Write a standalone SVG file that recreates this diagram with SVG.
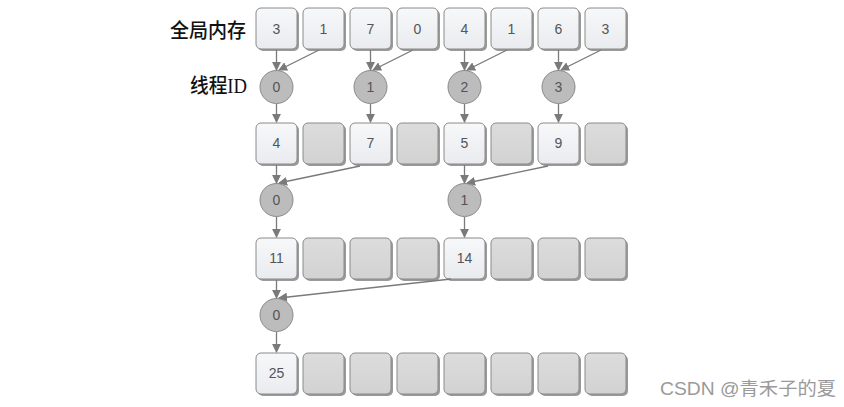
<svg xmlns="http://www.w3.org/2000/svg" width="844" height="407" viewBox="0 0 844 407">
<defs>
<linearGradient id="gl" x1="0" y1="0" x2="0" y2="1"><stop offset="0" stop-color="#f7f8fa"/><stop offset="1" stop-color="#e9ebee"/></linearGradient>
<linearGradient id="gd" x1="0" y1="0" x2="0" y2="1"><stop offset="0" stop-color="#dcdcdc"/><stop offset="1" stop-color="#d2d2d2"/></linearGradient>
<marker id="ah" viewBox="0 0 10 10" refX="9" refY="5" markerWidth="9" markerHeight="9" markerUnits="userSpaceOnUse" orient="auto"><path d="M0,0 L10,5 L0,10 Z" fill="#7a7a7a"/></marker>
</defs>
<style>
.sh{fill:#9a9a9a}
.bl{fill:url(#gl);stroke:#8a8a8a;stroke-width:1}
.bd{fill:url(#gd);stroke:#8a8a8a;stroke-width:1}
.c{fill:#bcbcbc;stroke:#8a8a8a;stroke-width:1}
.t{font-family:"Liberation Sans",Arial,sans-serif;font-size:14px;fill:#555;text-anchor:middle}
.lb{font-family:"Liberation Serif","Noto Sans CJK SC",serif;font-size:20px;fill:#111;font-weight:500}
.wm{font-family:"Liberation Sans","Noto Sans CJK SC",sans-serif;font-size:18px;fill:#9a9a9a}
.e{stroke:#7a7a7a;stroke-width:1.3;fill:none;marker-end:url(#ah)}
</style>
<rect width="844" height="407" fill="#fff"/>
<text class="lb" x="170" y="38" textLength="76" lengthAdjust="spacingAndGlyphs">全局内存</text>
<text class="lb" x="190" y="93" textLength="57" lengthAdjust="spacingAndGlyphs">线程ID</text>

<g id="row1">
<g id="m0"><rect class="sh" x="258" y="10" width="41" height="41" rx="5"/><rect class="bl" x="256" y="8" width="41" height="41" rx="5"/><text class="t" x="276.5" y="34">3</text></g>
<g id="m1"><rect class="sh" x="305" y="10" width="41" height="41" rx="5"/><rect class="bl" x="303" y="8" width="41" height="41" rx="5"/><text class="t" x="323.5" y="34">1</text></g>
<g id="m2"><rect class="sh" x="352" y="10" width="41" height="41" rx="5"/><rect class="bl" x="350" y="8" width="41" height="41" rx="5"/><text class="t" x="370.5" y="34">7</text></g>
<g id="m3"><rect class="sh" x="399" y="10" width="41" height="41" rx="5"/><rect class="bl" x="397" y="8" width="41" height="41" rx="5"/><text class="t" x="417.5" y="34">0</text></g>
<g id="m4"><rect class="sh" x="446" y="10" width="41" height="41" rx="5"/><rect class="bl" x="444" y="8" width="41" height="41" rx="5"/><text class="t" x="464.5" y="34">4</text></g>
<g id="m5"><rect class="sh" x="493" y="10" width="41" height="41" rx="5"/><rect class="bl" x="491" y="8" width="41" height="41" rx="5"/><text class="t" x="511.5" y="34">1</text></g>
<g id="m6"><rect class="sh" x="540" y="10" width="41" height="41" rx="5"/><rect class="bl" x="538" y="8" width="41" height="41" rx="5"/><text class="t" x="558.5" y="34">6</text></g>
<g id="m7"><rect class="sh" x="587" y="10" width="41" height="41" rx="5"/><rect class="bl" x="585" y="8" width="41" height="41" rx="5"/><text class="t" x="605.5" y="34">3</text></g>
</g>

<g id="threads1">
<g id="t1_0"><circle class="c" cx="276.5" cy="87" r="16.5"/><text class="t" x="276.5" y="92">0</text></g>
<g id="t1_1"><circle class="c" cx="370.5" cy="87" r="16.5"/><text class="t" x="370.5" y="92">1</text></g>
<g id="t1_2"><circle class="c" cx="464.5" cy="87" r="16.5"/><text class="t" x="464.5" y="92">2</text></g>
<g id="t1_3"><circle class="c" cx="558.5" cy="87" r="16.5"/><text class="t" x="558.5" y="92">3</text></g>
</g>

<g id="row2">
<g id="r2_0"><rect class="sh" x="258" y="125" width="41" height="41" rx="5"/><rect class="bl" x="256" y="123" width="41" height="41" rx="5"/><text class="t" x="276.5" y="148">4</text></g>
<g id="r2_1"><rect class="sh" x="305" y="125" width="41" height="41" rx="5"/><rect class="bd" x="303" y="123" width="41" height="41" rx="5"/></g>
<g id="r2_2"><rect class="sh" x="352" y="125" width="41" height="41" rx="5"/><rect class="bl" x="350" y="123" width="41" height="41" rx="5"/><text class="t" x="370.5" y="148">7</text></g>
<g id="r2_3"><rect class="sh" x="399" y="125" width="41" height="41" rx="5"/><rect class="bd" x="397" y="123" width="41" height="41" rx="5"/></g>
<g id="r2_4"><rect class="sh" x="446" y="125" width="41" height="41" rx="5"/><rect class="bl" x="444" y="123" width="41" height="41" rx="5"/><text class="t" x="464.5" y="148">5</text></g>
<g id="r2_5"><rect class="sh" x="493" y="125" width="41" height="41" rx="5"/><rect class="bd" x="491" y="123" width="41" height="41" rx="5"/></g>
<g id="r2_6"><rect class="sh" x="540" y="125" width="41" height="41" rx="5"/><rect class="bl" x="538" y="123" width="41" height="41" rx="5"/><text class="t" x="558.5" y="148">9</text></g>
<g id="r2_7"><rect class="sh" x="587" y="125" width="41" height="41" rx="5"/><rect class="bd" x="585" y="123" width="41" height="41" rx="5"/></g>
</g>

<g id="threads2">
<g id="t2_0"><circle class="c" cx="276.5" cy="200" r="16.5"/><text class="t" x="276.5" y="205">0</text></g>
<g id="t2_1"><circle class="c" cx="464.5" cy="200" r="16.5"/><text class="t" x="464.5" y="205">1</text></g>
</g>

<g id="row3">
<g id="r3_0"><rect class="sh" x="258" y="240" width="41" height="41" rx="5"/><rect class="bl" x="256" y="238" width="41" height="41" rx="5"/><text class="t" x="276.5" y="263">11</text></g>
<g id="r3_1"><rect class="sh" x="305" y="240" width="41" height="41" rx="5"/><rect class="bd" x="303" y="238" width="41" height="41" rx="5"/></g>
<g id="r3_2"><rect class="sh" x="352" y="240" width="41" height="41" rx="5"/><rect class="bd" x="350" y="238" width="41" height="41" rx="5"/></g>
<g id="r3_3"><rect class="sh" x="399" y="240" width="41" height="41" rx="5"/><rect class="bd" x="397" y="238" width="41" height="41" rx="5"/></g>
<g id="r3_4"><rect class="sh" x="446" y="240" width="41" height="41" rx="5"/><rect class="bl" x="444" y="238" width="41" height="41" rx="5"/><text class="t" x="464.5" y="263">14</text></g>
<g id="r3_5"><rect class="sh" x="493" y="240" width="41" height="41" rx="5"/><rect class="bd" x="491" y="238" width="41" height="41" rx="5"/></g>
<g id="r3_6"><rect class="sh" x="540" y="240" width="41" height="41" rx="5"/><rect class="bd" x="538" y="238" width="41" height="41" rx="5"/></g>
<g id="r3_7"><rect class="sh" x="587" y="240" width="41" height="41" rx="5"/><rect class="bd" x="585" y="238" width="41" height="41" rx="5"/></g>
</g>

<g id="threads3">
<g id="t3_0"><circle class="c" cx="276.5" cy="315" r="16.5"/><text class="t" x="276.5" y="320">0</text></g>
</g>

<g id="row4">
<g id="r4_0"><rect class="sh" x="258" y="355" width="41" height="41" rx="5"/><rect class="bl" x="256" y="353" width="41" height="41" rx="5"/><text class="t" x="276.5" y="378">25</text></g>
<g id="r4_1"><rect class="sh" x="305" y="355" width="41" height="41" rx="5"/><rect class="bd" x="303" y="353" width="41" height="41" rx="5"/></g>
<g id="r4_2"><rect class="sh" x="352" y="355" width="41" height="41" rx="5"/><rect class="bd" x="350" y="353" width="41" height="41" rx="5"/></g>
<g id="r4_3"><rect class="sh" x="399" y="355" width="41" height="41" rx="5"/><rect class="bd" x="397" y="353" width="41" height="41" rx="5"/></g>
<g id="r4_4"><rect class="sh" x="446" y="355" width="41" height="41" rx="5"/><rect class="bd" x="444" y="353" width="41" height="41" rx="5"/></g>
<g id="r4_5"><rect class="sh" x="493" y="355" width="41" height="41" rx="5"/><rect class="bd" x="491" y="353" width="41" height="41" rx="5"/></g>
<g id="r4_6"><rect class="sh" x="540" y="355" width="41" height="41" rx="5"/><rect class="bd" x="538" y="353" width="41" height="41" rx="5"/></g>
<g id="r4_7"><rect class="sh" x="587" y="355" width="41" height="41" rx="5"/><rect class="bd" x="585" y="353" width="41" height="41" rx="5"/></g>
</g>

<g id="connectors">
<line class="e" x1="276.5" y1="50" x2="276.5" y2="70"/>
<line class="e" x1="319" y1="50" x2="279" y2="70"/>
<line class="e" x1="370.5" y1="50" x2="370.5" y2="70"/>
<line class="e" x1="413" y1="50" x2="373" y2="70"/>
<line class="e" x1="464.5" y1="50" x2="464.5" y2="70"/>
<line class="e" x1="507" y1="50" x2="467" y2="70"/>
<line class="e" x1="558.5" y1="50" x2="558.5" y2="70"/>
<line class="e" x1="601" y1="50" x2="561" y2="70"/>
<line class="e" x1="276.5" y1="104" x2="276.5" y2="122"/>
<line class="e" x1="370.5" y1="104" x2="370.5" y2="122"/>
<line class="e" x1="464.5" y1="104" x2="464.5" y2="122"/>
<line class="e" x1="558.5" y1="104" x2="558.5" y2="122"/>
<line class="e" x1="276.5" y1="165" x2="276.5" y2="183"/>
<line class="e" x1="360" y1="166" x2="279" y2="183"/>
<line class="e" x1="464.5" y1="165" x2="464.5" y2="183"/>
<line class="e" x1="548" y1="166" x2="467" y2="183"/>
<line class="e" x1="276.5" y1="217" x2="276.5" y2="237"/>
<line class="e" x1="464.5" y1="217" x2="464.5" y2="237"/>
<line class="e" x1="276.5" y1="280" x2="276.5" y2="298"/>
<line class="e" x1="451" y1="279" x2="279" y2="298"/>
<line class="e" x1="276.5" y1="332" x2="276.5" y2="352"/>
</g>

<text class="wm" x="660" y="395" textLength="176" lengthAdjust="spacingAndGlyphs">CSDN @青禾子的夏</text>
</svg>
